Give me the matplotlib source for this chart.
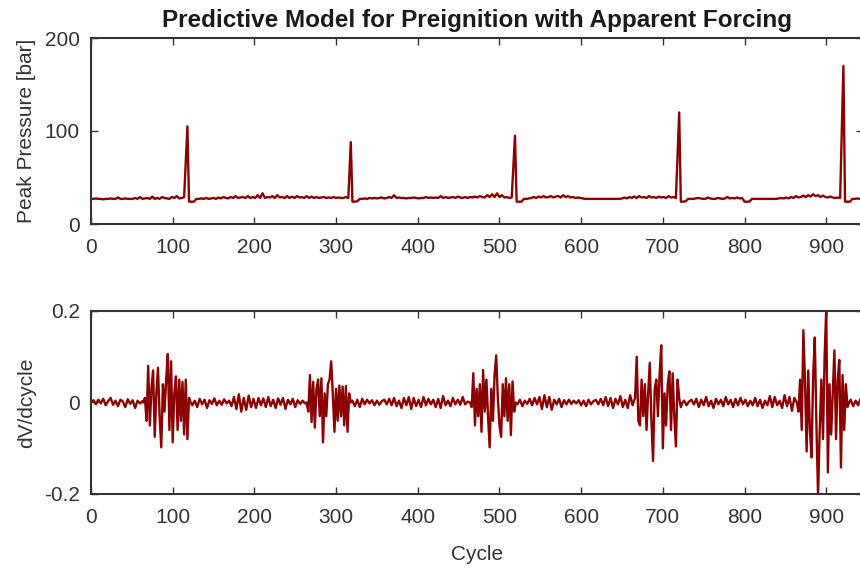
import numpy as np
import matplotlib
matplotlib.use("Agg")
import matplotlib.pyplot as plt

plt.rcParams['font.family'] = ['Liberation Sans', 'DejaVu Sans']

# peak pressure [bar], baseline read every 3 cycles between the spikes
p_a_start = 0
p_a = [27, 27, 27.5, 27, 27, 26.5, 27, 27, 27.5, 27,
       27, 28.5, 27, 27, 27.5, 27, 27, 27, 28, 27,
       29, 27, 27.5, 28, 27, 29.5, 27, 28, 27, 29,
       28, 27.5, 27, 29, 28, 30, 27.5, 28, 29]
p_b_start = 120
p_b = [24, 24, 24, 27, 27, 27.5, 27, 28, 27, 27.5,
       28, 27, 28.5, 27.5, 29, 28, 27.5, 29, 28, 30,
       28, 28.5, 29, 28, 30, 28, 29, 28, 31, 28,
       33, 28, 29, 28.5, 30, 28, 31, 28.5, 29, 28,
       30, 28, 29.5, 28, 30, 28.5, 29, 28, 30, 28,
       29.5, 28, 29, 28, 28.5, 29, 28, 28.5, 28, 29,
       28, 28.5, 28, 28, 29, 28]
p_c_start = 320
p_c = [24, 24, 24.5, 27, 27, 27.5, 27, 28, 27.5, 28,
       27.5, 28, 28.5, 27.5, 28, 29, 28, 31, 28, 28.5,
       28, 28, 27.5, 28, 28, 28.5, 28, 27.5, 28, 28,
       29, 28, 28.5, 28, 28.5, 28, 30, 28, 29, 28,
       28.5, 29, 28, 29.5, 28.5, 28, 29, 28, 29, 28.5,
       29.5, 28.5, 30, 29, 28.5, 31, 29, 32, 29, 33,
       29, 31, 28.5, 29, 28, 28.5]
p_d_start = 521
p_d = [24, 24, 24, 27, 27, 27.5, 28, 29, 28, 29.5,
       28.5, 30, 28.5, 29, 30, 28.5, 29.5, 30, 28.5, 31,
       29, 30, 28.5, 29, 28, 28.5, 28, 27.5, 27, 27,
       27, 27, 27, 27, 27, 27, 27, 27, 27, 27,
       27, 27, 27, 27.5, 28.5, 27.5, 29, 28, 29.5, 28,
       30, 28.5, 29, 28, 30, 28.5, 29, 28, 29.5, 28.5,
       29, 28, 30, 28.5, 29, 28]
p_e_start = 722
p_e = [24, 24, 24.5, 27, 27, 27, 27.5, 28, 27.5, 27,
       27, 28.5, 27.5, 27, 27, 28, 27.5, 27, 27.5, 29,
       27.5, 28, 27.5, 28.5, 27.5, 28, 24, 24, 24, 27,
       27, 27, 27, 27, 27, 27, 27, 27, 27, 27,
       27.5, 28, 27.5, 28.5, 27.5, 29, 28, 30, 28.5, 29,
       30.5, 29, 31, 29.5, 32, 30, 31, 29, 30.5, 29,
       28.5, 29.5, 28.5, 28, 28.5, 28]
p_f_start = 923
p_f = [24, 24, 24, 27, 27, 27.5, 27, 27]

spike_cycles = [118, 318, 519, 720, 921]
spike_peaks = [105, 88, 95, 120, 170]

# dV/dcycle: quiet stretches every 3 cycles, bursts every 2 cycles
q_a_start = 0
q_a = [0.0, 0.005, -0.004, 0.006, -0.002, 0.008, -0.006, 0.003, 0.01, -0.005,
       0.004, -0.008, 0.006, 0.002, -0.01, 0.007, -0.003, 0.005, -0.012, 0.004,
       -0.002, 0.003]
b1_start = 64
b1 = [0.0, 0.01, -0.04, 0.08, -0.05, 0.03, 0.07, -0.075, 0.02, 0.076,
      -0.03, -0.098, 0.04, -0.02, 0.05, 0.106, -0.06, 0.09, -0.087, 0.02,
      0.057, -0.06, 0.05, -0.04, 0.045, -0.07, 0.05, -0.08, 0.01, 0.0]
q_b_start = 124
q_b = [-0.006, 0.004, -0.01, 0.008, -0.004, 0.006, -0.012, 0.005, -0.003, 0.009,
       -0.006, 0.004, -0.005, 0.007, -0.002, 0.004, -0.008, 0.012, -0.014, 0.018,
       -0.02, 0.01, -0.016, 0.015, -0.01, 0.008, -0.012, 0.01, -0.006, 0.009,
       -0.01, 0.012, -0.008, 0.006, -0.012, 0.009, -0.005, 0.01, -0.014, 0.006,
       -0.004, 0.008, -0.01, 0.005, -0.003, 0.004, -0.002]
b2_start = 264
b2 = [0.0, -0.02, 0.06, -0.043, 0.045, -0.055, 0.03, 0.05, -0.03, 0.053,
      -0.087, 0.02, -0.03, 0.04, 0.05, 0.09, 0.02, -0.064, 0.03, -0.04,
      0.037, -0.03, 0.035, -0.05, 0.036, -0.064, 0.02, 0.0]
q_c_start = 320
q_c = [0.004, -0.008, 0.006, -0.01, 0.008, -0.004, 0.006, -0.002, 0.005, -0.006,
       0.004, -0.005, 0.003, 0.006, -0.004, 0.008, -0.006, 0.01, -0.008, 0.004,
       -0.012, 0.01, -0.006, 0.012, -0.014, 0.01, -0.008, 0.006, -0.01, 0.012,
       -0.006, 0.008, -0.004, 0.006, -0.01, 0.008, -0.012, 0.014, -0.006, 0.004,
       -0.008, 0.01, -0.004, 0.006, -0.005, 0.012, -0.004, 0.002]
b3_start = 464
b3 = [0.0, -0.01, 0.064, -0.05, 0.03, -0.03, 0.04, -0.064, 0.071, -0.02,
      0.05, -0.03, -0.098, 0.03, -0.04, 0.06, 0.103, 0.01, -0.05, -0.075,
      0.04, -0.03, 0.053, -0.04, 0.04, -0.071, 0.046, -0.02, 0.0]
q_d_start = 522
q_d = [-0.004, 0.006, -0.008, 0.004, -0.003, 0.008, -0.006, 0.01, -0.004, 0.012,
       -0.014, 0.016, -0.01, 0.012, -0.016, 0.006, -0.004, 0.008, -0.01, 0.005,
       -0.004, 0.006, -0.003, 0.004, -0.002, 0.005, -0.006, 0.004, -0.008, 0.006,
       -0.004, 0.003, 0.006, -0.004, 0.008, -0.006, 0.012, -0.008, 0.01, -0.012,
       0.008, -0.004, 0.014, -0.01, 0.006, -0.012, 0.016, -0.006]
b4_start = 664
b4 = [0.0, 0.01, 0.1, -0.04, -0.05, 0.05, -0.03, 0.04, -0.06, 0.02,
      0.087, -0.04, -0.128, 0.03, 0.05, -0.03, 0.06, 0.125, -0.1, 0.02,
      -0.05, 0.04, 0.068, -0.06, 0.064, -0.03, -0.096, 0.05, 0.01, -0.01,
      0.0]
q_e_start = 726
q_e = [0.004, -0.006, 0.002, 0.006, -0.004, 0.008, -0.01, 0.006, -0.006, 0.012,
       -0.008, 0.004, -0.012, 0.008, -0.004, 0.006, -0.008, 0.012, -0.004, 0.006,
       -0.01, 0.008, -0.006, 0.01, -0.004, 0.006, -0.008, 0.004, -0.006, 0.01,
       -0.008, 0.006, -0.012, 0.004, -0.006, 0.014, -0.01, 0.012, -0.006, 0.004,
       -0.012, 0.016, -0.008, 0.012, -0.018, 0.01]
b5_start = 864
b5 = [0.0, -0.02, 0.05, -0.06, 0.158, 0.05, -0.107, 0.07, -0.06, -0.12,
      0.06, 0.142, -0.05, -0.205, -0.06, 0.05, -0.08, 0.1, 0.205, -0.153,
      0.04, -0.07, 0.02, 0.114, -0.08, 0.05, 0.093, -0.142, 0.06, -0.06,
      0.04, -0.01, 0.0]
q_f_start = 930
q_f = [0.006, -0.008, 0.004, -0.006, 0.008, -0.004]


def stitch(parts):
    xs, ys = [], []
    for start, step, vals in parts:
        xs += list(start + step * np.arange(len(vals)))
        ys += list(vals)
    order = np.argsort(xs, kind='stable')
    return np.array(xs)[order], np.array(ys)[order]


p_x, p_y = stitch([(p_a_start, 3, p_a), (p_b_start, 3, p_b), (p_c_start, 3, p_c),
                   (p_d_start, 3, p_d), (p_e_start, 3, p_e), (p_f_start, 3, p_f)])
# drop in the preignition spikes at their cycles
p_x = np.concatenate([p_x, spike_cycles])
p_y = np.concatenate([p_y, spike_peaks])
order = np.argsort(p_x, kind='stable')
p_x, p_y = p_x[order], p_y[order]

dv_x, dv_y = stitch([(q_a_start, 3, q_a), (b1_start, 2, b1), (q_b_start, 3, q_b),
                     (b2_start, 2, b2), (q_c_start, 3, q_c), (b3_start, 2, b3),
                     (q_d_start, 3, q_d), (b4_start, 2, b4), (q_e_start, 3, q_e),
                     (b5_start, 2, b5), (q_f_start, 3, q_f)])

line_color = '#8b0000'
axis_color = '#333333'

fig = plt.figure(figsize=(8.6, 5.69), dpi=100)
ax1 = fig.add_axes([91 / 860, 1 - 224 / 569, 772 / 860, 186 / 569])
ax2 = fig.add_axes([91 / 860, 1 - 494 / 569, 772 / 860, 183 / 569])

ax1.plot(p_x, p_y, color=line_color, lw=1.7)
ax1.set_xlim(0, 945)
ax1.set_ylim(0, 200)
ax1.set_yticks([0, 100, 200])
ax1.set_ylabel('Peak Pressure [bar]', fontsize=15, color=axis_color, labelpad=6)
ax1.set_title('Predictive Model for Preignition with Apparent Forcing',
              fontsize=17.5, fontweight='bold', color='#1a1a1a', pad=8)

ax2.plot(dv_x, dv_y, color=line_color, lw=1.7)
ax2.set_xlim(0, 945)
ax2.set_ylim(-0.2, 0.2)
ax2.set_yticks([-0.2, 0, 0.2])
ax2.set_yticklabels(['-0.2', '0', '0.2'])
ax2.set_ylabel('dV/dcycle', fontsize=15, color=axis_color, labelpad=6)
ax2.set_xlabel('Cycle', fontsize=15, color=axis_color, labelpad=13)

for ax in (ax1, ax2):
    ax.set_xticks(range(0, 1000, 100))
    ax.tick_params(direction='in', top=True, right=True, length=5, width=1,
                   labelsize=15, colors=axis_color)
    ax.tick_params(axis='x', pad=10)
    ax.tick_params(axis='y', pad=8)
    for s in ax.spines.values():
        s.set_color(axis_color)
        s.set_linewidth(1.5)

fig.savefig('out.png', dpi=100)
